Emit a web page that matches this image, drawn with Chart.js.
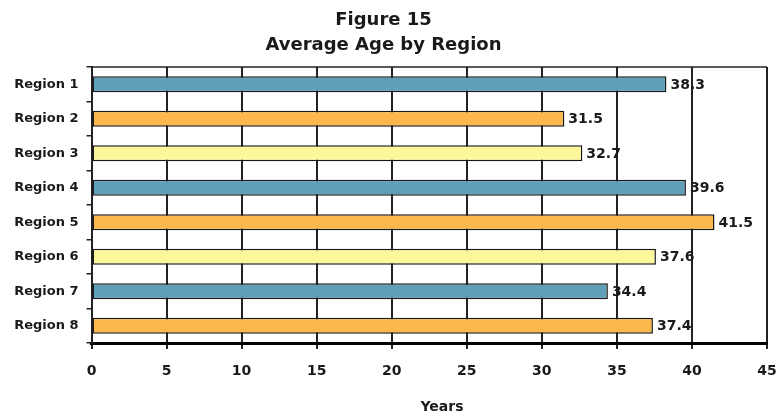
<!DOCTYPE html>
<html>
<head>
<meta charset="utf-8">
<script src="https://cdn.jsdelivr.net/npm/chart.js@4"></script>
<style>
  html, body { margin: 0; padding: 0; background: #fff; }
  #wrap { width: 782px; height: 413px; }
</style>
</head>
<body>
<div id="wrap"><canvas id="c" width="782" height="413"></canvas></div>
<script>
const regions = ['Region 1', 'Region 2', 'Region 3', 'Region 4', 'Region 5', 'Region 6', 'Region 7', 'Region 8'];
const averageAge = [38.3, 31.5, 32.7, 39.6, 41.5, 37.6, 34.4, 37.4];
const barColors = ['#5f9fb7', '#fdb84c', '#fdf79c', '#5f9fb7', '#fdb84c', '#fdf79c', '#5f9fb7', '#fdb84c'];
const xTicks = [0, 5, 10, 15, 20, 25, 30, 35, 40, 45];
const titleLines = ['Figure 15', 'Average Age by Region'];
const xAxisTitle = 'Years';

const FONT = "'DejaVu Sans', Arial, sans-serif";
const INK = '#222';

// Value labels, top frame line and axis caption
const extras = {
  id: 'extras',
  afterDatasetsDraw(chart) {
    const ctx = chart.ctx;
    const area = chart.chartArea;
    ctx.save();
    ctx.strokeStyle = INK;
    ctx.lineWidth = 1.5;
    ctx.beginPath();
    ctx.moveTo(area.left, area.top);
    ctx.lineTo(area.right, area.top);
    ctx.stroke();

    ctx.fillStyle = '#1a1a1a';
    ctx.font = 'bold 14px ' + FONT;
    ctx.textAlign = 'left';
    ctx.textBaseline = 'middle';
    const meta = chart.getDatasetMeta(0);
    meta.data.forEach((bar, i) => {
      ctx.fillText(averageAge[i].toFixed(1), bar.x + 4, bar.y + 1);
    });

    ctx.font = 'bold 14px ' + FONT;
    ctx.textAlign = 'center';
    ctx.fillText(xAxisTitle, 442, 407);
    ctx.restore();
  }
};

new Chart(document.getElementById('c'), {
  type: 'bar',
  data: {
    labels: regions,
    datasets: [{
      data: averageAge,
      backgroundColor: barColors,
      borderColor: '#1a1a1a',
      borderWidth: 1.5,
      borderSkipped: false,
      barPercentage: 0.93,
      categoryPercentage: 0.5
    }]
  },
  options: {
    indexAxis: 'y',
    responsive: false,
    animation: false,
    devicePixelRatio: 1,
    layout: { padding: { left: 0, right: 15, top: 8, bottom: 0 } },
    plugins: {
      legend: { display: false },
      tooltip: { enabled: false },
      title: {
        display: true,
        text: titleLines,
        color: '#1a1a1a',
        font: { family: FONT, size: 18, weight: 'bold', lineHeight: 1.39 },
        padding: { top: 0, bottom: 9 }
      }
    },
    scales: {
      x: {
        min: 0,
        max: 45,
        afterBuildTicks(scale) { scale.ticks = xTicks.map(v => ({ value: v })); },
        afterFit(scale) {
          scale.height = 70;
          scale.paddingLeft = 0;
          scale.paddingRight = 0;
        },
        grid: { color: INK, lineWidth: 2, tickLength: 6, tickColor: INK },
        border: { color: '#000', width: 3 },
        ticks: {
          color: '#1a1a1a',
          padding: 14,
          font: { family: FONT, size: 14, weight: 'bold' }
        }
      },
      y: {
        afterFit(scale) { scale.width = 91.5; },
        grid: { drawOnChartArea: false, color: INK, lineWidth: 1.5, tickLength: 5, offset: true },
        border: { color: INK, width: 2 },
        ticks: {
          color: '#1a1a1a',
          padding: 8,
          font: { family: FONT, size: 13, weight: 'bold' }
        }
      }
    }
  },
  plugins: [extras]
});
</script>
</body>
</html>
